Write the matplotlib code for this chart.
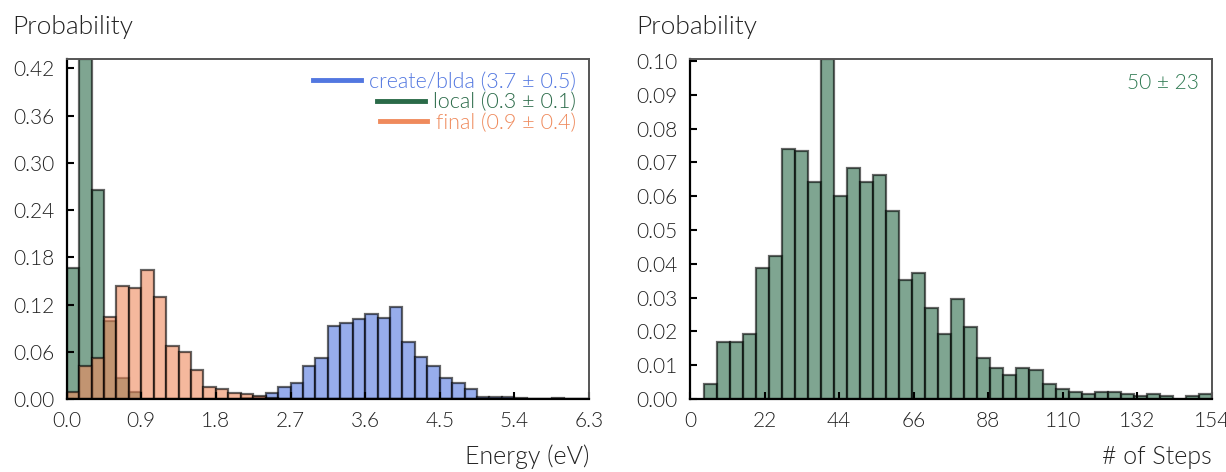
import numpy as np
import matplotlib
matplotlib.use("Agg")
import matplotlib.pyplot as plt
from matplotlib.lines import Line2D

plt.rcParams['font.family'] = ['Lato', 'DejaVu Sans']
plt.rcParams['font.weight'] = 300

# energy histograms, 42 bins of 0.15 eV from 0 to 6.3
energy_lo, energy_hi, energy_nbins = 0.0, 6.3, 42
blda = [0, 0, 0, 0, 0, 0, 0, 0, 0, 0, 0, 0, 0, 0,
        0.001, 0.002, 0.0075, 0.0157, 0.0208, 0.0424, 0.0522, 0.0929, 0.0971,
        0.1014, 0.1078, 0.1027, 0.1167, 0.0725, 0.0539, 0.0424, 0.0267, 0.0200,
        0.0123, 0.0029, 0.002, 0.002, 0.0015, 0, 0, 0.0008, 0, 0]
local = [0.1663, 0.432, 0.266, 0.099, 0.0263, 0.0093] + [0] * 36
final = [0.0093, 0.0424, 0.0518, 0.1048, 0.1438, 0.1405, 0.1635, 0.1302,
         0.0668, 0.0598, 0.0372, 0.0149, 0.0130, 0.0082, 0.0060, 0.0038,
         0.0010] + [0] * 25
labels = ['create/blda (3.7 ± 0.5)', 'local (0.3 ± 0.1)', 'final (0.9 ± 0.4)']

# steps histogram, 39 bins from 4 to 154
steps_lo, steps_hi = 4, 154
steps = [0.0044, 0.017, 0.017, 0.0191, 0.0387, 0.0423, 0.074, 0.0734, 0.0642,
         0.1006, 0.0601, 0.0683, 0.0642, 0.0663, 0.0557, 0.0353, 0.0374, 0.0268,
         0.0191, 0.0296, 0.0213, 0.0120, 0.0092, 0.0071, 0.0092, 0.0086, 0.0043,
         0.0029, 0.0022, 0.0015, 0.0022, 0.0022, 0.0015, 0.0008, 0.0015, 0.0008,
         0, 0.0008, 0.0015]
steps_label = '50 ± 23'

c_blue = '#5277e0'
c_green = '#2a6a48'
c_orange = '#ef8a5c'
txt = '#222222'

fig = plt.figure(figsize=(12.26, 4.72), dpi=100)
ax1 = fig.add_axes([0.0544, 0.1547, 0.426, 0.7203])
ax2 = fig.add_axes([0.5628, 0.1547, 0.4258, 0.7203])


def style(ax):
    for s in ['left', 'bottom']:
        ax.spines[s].set_color('black')
        ax.spines[s].set_linewidth(1.6)
    for s in ['top', 'right']:
        ax.spines[s].set_color('#555555')
        ax.spines[s].set_linewidth(1.4)
    ax.tick_params(direction='in', length=5, width=1.5, labelsize=15,
                   labelcolor=txt, pad=9)


edges = np.linspace(energy_lo, energy_hi, energy_nbins + 1)
w = edges[1] - edges[0]
for vals, col in [(blda, c_blue), (local, c_green), (final, c_orange)]:
    ax1.bar(edges[:-1], vals, width=w, align='edge', color=col, alpha=0.6,
            edgecolor='black', linewidth=1.6)
ax1.set_xlim(energy_lo, energy_hi)
ax1.set_ylim(0, max(local))
ax1.set_xticks(np.arange(0, 6.31, 0.9))
ax1.set_xticklabels(['%.1f' % t for t in np.arange(0, 6.31, 0.9)])
ax1.set_yticks(np.arange(0, 0.421, 0.06))
ax1.set_yticklabels(['%.2f' % t for t in np.arange(0, 0.421, 0.06)])
style(ax1)

handles = [Line2D([], [], color=c, lw=3.5) for c in [c_blue, c_green, c_orange]]
leg = ax1.legend(handles, labels, loc='upper right', frameon=False, fontsize=15.5,
                 handlelength=2.2, handletextpad=0.4, labelspacing=0.02,
                 borderaxespad=0.2)
for t, c in zip(leg.get_texts(), [c_blue, c_green, c_orange]):
    t.set_color(c)
leg._legend_handle_box.get_children()[0].align = 'right'

sedges = np.linspace(steps_lo, steps_hi, len(steps) + 1)
ax2.bar(sedges[:-1], steps, width=sedges[1] - sedges[0], align='edge',
        color=c_green, alpha=0.6, edgecolor='black', linewidth=1.6)
ax2.set_xlim(0, 154)
ax2.set_ylim(0, max(steps))
ax2.set_xticks(np.arange(0, 155, 22))
ax2.set_yticks(np.arange(0, 0.1001, 0.01))
ax2.set_yticklabels(['%.2f' % t for t in np.arange(0, 0.1001, 0.01)])
style(ax2)
ax2.text(0.975, 0.93, steps_label, transform=ax2.transAxes, ha='right',
         va='center', fontsize=15, color='#2f7a52')

fig.text(0.0098, 0.943, 'Probability', fontsize=19, color=txt, va='center')
fig.text(0.519, 0.943, 'Probability', fontsize=19, color=txt, va='center')
fig.text(0.4804, 0.032, 'Energy (eV)', fontsize=18, color=txt, ha='right',
         va='center')
fig.text(0.9886, 0.032, '# of Steps', fontsize=18, color=txt, ha='right',
         va='center')

fig.savefig('out.png', dpi=100)
